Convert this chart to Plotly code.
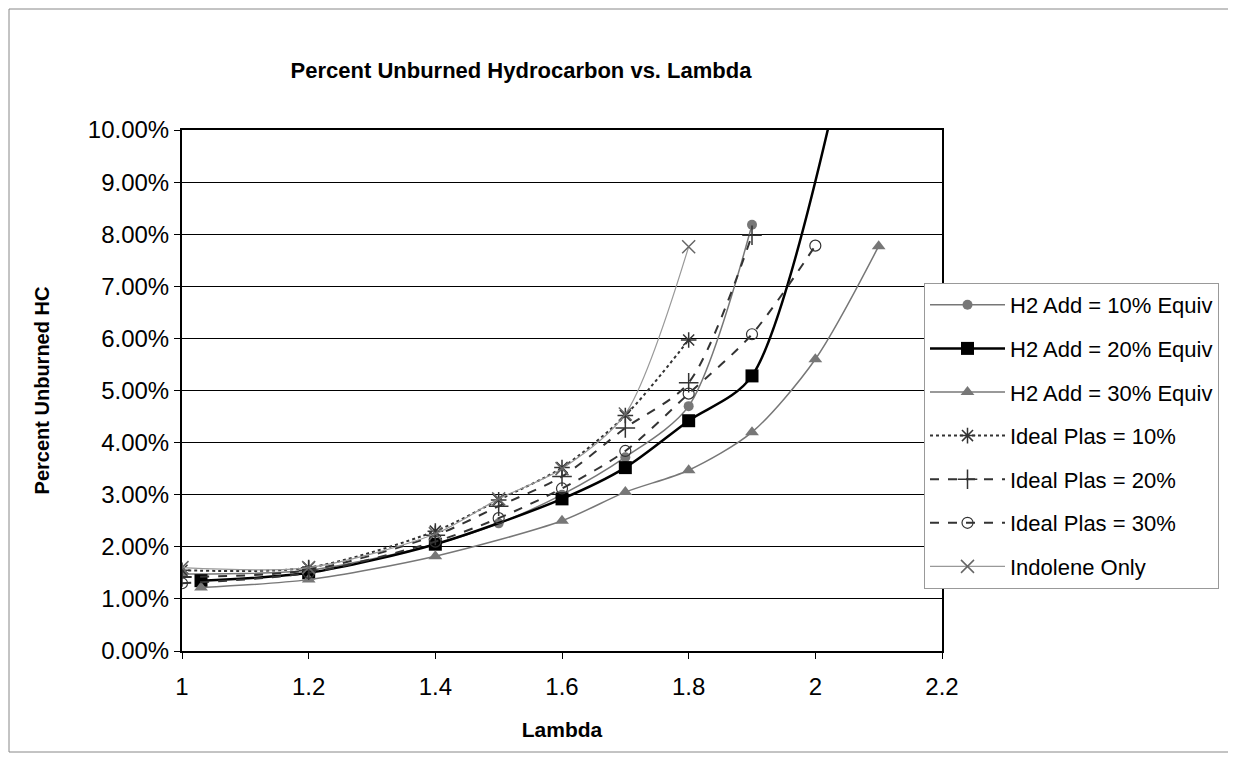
import plotly.graph_objects as go

FONT = 'Liberation Sans, Arial, sans-serif'

# lambda values and percent unburned HC (%)
h2_10_x = [1.0, 1.2, 1.4, 1.5, 1.6, 1.7, 1.8, 1.9]
h2_10_y = [1.48, 1.55, 2.05, 2.45, 3.0, 3.72, 4.7, 8.18]

h2_20_x = [1.03, 1.2, 1.4, 1.6, 1.7, 1.8, 1.9, 2.1]
h2_20_y = [1.35, 1.5, 2.05, 2.92, 3.52, 4.42, 5.28, 14.5]

h2_30_x = [1.03, 1.2, 1.4, 1.6, 1.7, 1.8, 1.9, 2.0, 2.1]
h2_30_y = [1.22, 1.37, 1.82, 2.5, 3.05, 3.47, 4.2, 5.6, 7.77]

plas_10_x = [1.0, 1.2, 1.4, 1.5, 1.6, 1.7, 1.8]
plas_10_y = [1.55, 1.6, 2.3, 2.9, 3.52, 4.52, 5.97]

plas_20_x = [1.0, 1.2, 1.4, 1.5, 1.6, 1.7, 1.8, 1.9]
plas_20_y = [1.42, 1.55, 2.22, 2.78, 3.35, 4.28, 5.15, 7.98]

plas_30_x = [1.0, 1.2, 1.4, 1.5, 1.6, 1.7, 1.8, 1.9, 2.0]
plas_30_y = [1.3, 1.5, 2.1, 2.55, 3.12, 3.84, 4.94, 6.08, 7.78]

indolene_x = [1.0, 1.2, 1.4, 1.5, 1.6, 1.7, 1.8]
indolene_y = [1.6, 1.6, 2.25, 2.92, 3.5, 4.55, 7.76]

x_ticks = [1, 1.2, 1.4, 1.6, 1.8, 2, 2.2]
x_tick_labels = ['1', '1.2', '1.4', '1.6', '1.8', '2', '2.2']

series = [
    ('H2 Add = 10% Equiv', h2_10_x, h2_10_y,
     dict(color='#777777', width=1.5, dash='solid'), dict(symbol='circle', size=10, color='#777777')),
    ('H2 Add = 20% Equiv', h2_20_x, h2_20_y,
     dict(color='black', width=2.5, dash='solid'), dict(symbol='square', size=13, color='black')),
    ('H2 Add = 30% Equiv', h2_30_x, h2_30_y,
     dict(color='#777777', width=1.5, dash='solid'), dict(symbol='triangle-up', size=12, color='#777777')),
    ('Ideal Plas = 10%', plas_10_x, plas_10_y,
     dict(color='#333333', width=2, dash='dot'),
     dict(symbol='asterisk-open', size=13, color='#333333', line=dict(width=1.5, color='#333333'))),
    ('Ideal Plas = 20%', plas_20_x, plas_20_y,
     dict(color='#333333', width=2, dash='dash'),
     dict(symbol='cross-thin-open', size=14, color='#333333', line=dict(width=1.5, color='#333333'))),
    ('Ideal Plas = 30%', plas_30_x, plas_30_y,
     dict(color='#333333', width=2, dash='dash'),
     dict(symbol='circle-open', size=11, color='#333333', line=dict(width=1.2, color='#333333'))),
    ('Indolene Only', indolene_x, indolene_y,
     dict(color='#999999', width=1.2, dash='solid'),
     dict(symbol='x-thin-open', size=13, color='#666666', line=dict(width=1.5, color='#666666'))),
]

fig = go.Figure()
for name, xs, ys, ln, mk in series:
    fig.add_trace(go.Scatter(x=xs, y=ys, name=name, legendgroup=name, mode='lines+markers',
                             line=dict(shape='spline', smoothing=0.8, **ln), marker=mk,
                             cliponaxis=True))

# page is drawn 8px in from the window edge
W, H = 1228, 749
L, T, R, B = 174, 122, 294, 106

fig.update_layout(
    width=W, height=H,
    margin=dict(l=L, r=R, t=T, b=B),
    paper_bgcolor='white', plot_bgcolor='white',
    font=dict(family=FONT, size=24, color='black'),
    title=dict(text='<b>Percent Unburned Hydrocarbon vs. Lambda</b>', x=513 / W, xanchor='center',
               y=1 - 62 / H, yanchor='middle', font=dict(size=22)),
    legend=dict(x=(916 - L) / 760, y=(643 - 275) / 521, xanchor='left', yanchor='top',
                bgcolor='white', bordercolor='#999999', borderwidth=1,
                font=dict(size=22), tracegroupgap=12, itemwidth=75),
    showlegend=True,
)
fig.update_xaxes(range=[1, 2.2], tickvals=x_ticks, ticktext=x_tick_labels,
                 showgrid=False, zeroline=False, showline=True, linecolor='black', linewidth=2,
                 ticks='outside', ticklen=6, tickcolor='black', ticklabelstandoff=7,
                 title=dict(text='<b>Lambda</b>', font=dict(size=21), standoff=24), mirror=True)
fig.update_yaxes(range=[0, 10], dtick=1, tickformat='.2f', ticksuffix='%',
                 showgrid=True, gridcolor='black', gridwidth=1, zeroline=False,
                 showline=True, linecolor='black', linewidth=2, mirror=True,
                 ticks='outside', ticklen=6, tickcolor='black',
                 title=dict(text='<b>Percent Unburned HC</b>', font=dict(size=20), standoff=33))

# chart area frame
fig.add_shape(type='rect', xref='paper', yref='paper',
              x0=(1 - L) / 760, x1=(W + 5 - L) / 760, y0=(643 - 744) / 521, y1=(643 - 1) / 521,
              line=dict(color='#888888', width=1), layer='below')

fig.write_html('out.html')
